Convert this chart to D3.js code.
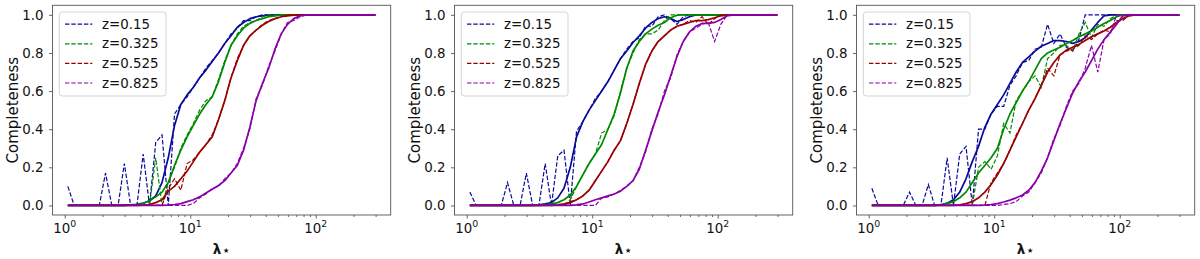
<!DOCTYPE html>
<html><head><meta charset="utf-8">
<script src="https://cdn.jsdelivr.net/npm/d3@7"></script>
<style>body{margin:0;background:#fff} svg{display:block}</style>
</head><body><svg id="c" width="1200" height="259"></svg>
<script>
// ---------------- DATA ----------------
const lambdaBins = [1.059,1.189,1.334,1.496,1.679,1.884,2.113,2.371,2.661,2.985,
  3.350,3.758,4.217,4.732,5.309,5.957,6.683,7.499,8.414,9.441,
  10.59,11.89,13.34,14.96,16.79,18.84,21.13,23.71,26.61,29.85,
  33.50,37.58,42.17,47.32,53.09,59.57,66.83,74.99,84.14,94.41,
  105.9,118.9,133.4,149.6,167.9,188.4,211.3,237.1,266.1,298.5];

const zLabels = ["z=0.15", "z=0.325", "z=0.525", "z=0.825"];
const zColors = ["#0a0a9a", "#008a00", "#9a0000", "#8a00a8"];
const yTickValues = [0, 0.2, 0.4, 0.6, 0.8, 1.0];
const xMajorTicks = [1, 10, 100];
const xTickExponents = ["0", "1", "2"];
const yLabel = "Completeness";

// Panel 1
const p1_z015_bin = [0.10,0,0,0,0,0,0.17,0,0,0.22, 0,0,0.27,0,0.33,0.37,0,0.48,0.53,0.57,
  0.62,0.67,0.72,0.76,0.80,0.85,0.90,0.93,0.97,0.97, 0.99,1,1,1,1,1,1,1,1,1, 1,1,1,1,1,1,1,1,1,1];
const p1_z015_fit = [0,0,0,0,0,0,0,0,0,0, 0.003,0.006,0.012,0.025,0.05,0.12,0.25,0.42,0.53,0.58,
  0.62,0.67,0.71,0.755,0.80,0.85,0.89,0.935,0.96,0.98, 0.99,0.995,0.998,1,1,1,1,1,1,1, 1,1,1,1,1,1,1,1,1,1];
const p1_z0325_bin = [0,0,0,0,0,0,0,0,0,0, 0,0,0,0,0.25,0,0.12,0.20,0.30,0.37,
  0.43,0.50,0.55,0.57,0.66,0.76,0.84,0.90,0.94,0.96, 0.97,0.99,1,1,1,1,1,1,1,1, 1,1,1,1,1,1,1,1,1,1];
const p1_z0325_fit = [0,0,0,0,0,0,0,0,0,0, 0.002,0.005,0.01,0.025,0.045,0.07,0.12,0.21,0.29,0.36,
  0.42,0.48,0.53,0.57,0.65,0.75,0.84,0.89,0.93,0.955, 0.97,0.98,0.99,0.995,1,1,1,1,1,1, 1,1,1,1,1,1,1,1,1,1];
const p1_z0525_bin = [0,0,0,0,0,0,0,0,0,0, 0,0,0,0,0,0,0.09,0.14,0.08,0.22,
  0.24,0.28,0.32,0.37,0.45,0.55,0.67,0.77,0.84,0.89, 0.92,0.95,0.97,0.98,0.99,1,1,1,1,1, 1,1,1,1,1,1,1,1,1,1];
const p1_z0525_fit = [0,0,0,0,0,0,0,0,0,0, 0,0,0.002,0.005,0.015,0.03,0.075,0.10,0.14,0.18,
  0.23,0.28,0.32,0.36,0.45,0.55,0.67,0.76,0.84,0.89, 0.92,0.945,0.965,0.98,0.99,0.995,0.998,1,1,1, 1,1,1,1,1,1,1,1,1,1];
const p1_z0825_bin = [0,0,0,0,0,0,0,0,0,0, 0,0,0,0,0,0,0,0,0,0,
  0.01,0.04,0.06,0.09,0.10,0.14,0.17,0.22,0.30,0.40, 0.56,0.63,0.73,0.81,0.90,0.96,0.97,0.99,1,1, 1,1,1,1,1,1,1,1,1,1];
const p1_z0825_fit = [0,0,0,0,0,0,0,0,0,0, 0,0,0,0,0,0,0.002,0.005,0.01,0.02,
  0.03,0.045,0.065,0.085,0.105,0.13,0.17,0.21,0.29,0.41, 0.55,0.64,0.72,0.82,0.90,0.95,0.98,0.995,1,1, 1,1,1,1,1,1,1,1,1,1];

// Panel 2
const p2_z015_bin = [0.07,0,0,0,0,0,0.12,0,0,0.17, 0,0,0.22,0,0.26,0.29,0,0.39,0.44,0.50,
  0.56,0.60,0.65,0.71,0.77,0.82,0.86,0.88,0.94,0.94, 0.99,1,0.98,0.95,0.99,1,1,1,1,1, 1,1,1,1,1,1,1,1,1,1];
const p2_z015_fit = [0,0,0,0,0,0,0,0,0,0, 0,0.003,0.008,0.015,0.04,0.09,0.20,0.36,0.44,0.50,
  0.55,0.60,0.65,0.71,0.77,0.81,0.855,0.89,0.93,0.96, 0.98,0.99,0.98,0.965,0.975,0.99,1,1,1,1, 1,1,1,1,1,1,1,1,1,1];
const p2_z0325_bin = [0,0,0,0,0,0,0,0,0,0, 0,0,0,0,0,0,0.03,0.10,0.16,0.22,
  0.27,0.38,0.40,0.47,0.60,0.72,0.80,0.87,0.90,0.90, 0.92,0.97,1,1,1,1,1,1,1,1, 1,1,1,1,1,1,1,1,1,1];
const p2_z0325_fit = [0,0,0,0,0,0,0,0,0,0, 0,0,0.003,0.008,0.015,0.03,0.055,0.10,0.16,0.22,
  0.27,0.32,0.40,0.48,0.59,0.72,0.81,0.86,0.90,0.925, 0.945,0.96,0.985,0.998,1,1,1,1,1,1, 1,1,1,1,1,1,1,1,1,1];
const p2_z0525_bin = [0,0,0,0,0,0,0,0,0,0, 0,0,0,0,0,0,0.02,0.03,0.05,0.08,
  0.13,0.18,0.23,0.29,0.34,0.43,0.53,0.64,0.74,0.81, 0.86,0.89,0.92,0.94,0.95,0.97,0.96,0.99,0.95,0.98, 1,1,1,1,1,1,1,1,1,1];
const p2_z0525_fit = [0,0,0,0,0,0,0,0,0,0, 0,0,0,0,0.003,0.008,0.015,0.03,0.05,0.08,
  0.13,0.18,0.23,0.29,0.34,0.43,0.53,0.64,0.74,0.81, 0.86,0.89,0.92,0.94,0.95,0.96,0.97,0.97,0.975,0.985, 0.995,1,1,1,1,1,1,1,1,1];
const p2_z0825_bin = [0,0,0,0,0,0,0,0,0,0, 0,0,0,0,0,0,0,0,0,0,
  0,0.04,0.045,0.06,0.08,0.10,0.13,0.20,0.28,0.40, 0.48,0.60,0.67,0.79,0.86,0.91,0.93,0.95,0.96,0.86, 0.95,1,1,1,1,1,1,1,1,1];
const p2_z0825_fit = [0,0,0,0,0,0,0,0,0,0, 0,0,0,0,0,0,0,0.003,0.008,0.018,
  0.03,0.04,0.05,0.06,0.075,0.10,0.13,0.19,0.29,0.39, 0.49,0.58,0.68,0.78,0.86,0.91,0.94,0.955,0.955,0.96, 0.975,0.995,1,1,1,1,1,1,1,1];

// Panel 3
const p3_z015_bin = [0.09,0,0,0,0,0,0.07,0,0,0.11, 0,0,0.25,0,0.27,0.31,0,0.40,0.40,0.48,
  0.52,0.52,0.63,0.68,0.75,0.76,0.82,0.83,0.95,0.85, 0.90,0.83,0.81,0.87,1,1,1,1,1,1, 1,1,1,1,1,1,1,1,1,1];
const p3_z015_fit = [0,0,0,0,0,0,0,0,0,0, 0,0.004,0.012,0.03,0.07,0.14,0.23,0.31,0.41,0.48,
  0.53,0.58,0.64,0.70,0.75,0.78,0.81,0.835,0.85,0.865, 0.865,0.86,0.85,0.86,0.88,0.92,0.96,0.995,1,1, 1,1,1,1,1,1,1,1,1,1];
const p3_z0325_bin = [0,0,0,0,0,0,0,0,0,0, 0,0,0,0,0,0,0,0.20,0.23,0.19,
  0.26,0.43,0.38,0.55,0.60,0.65,0.68,0.62,0.77,0.80, 0.84,0.84,0.81,0.90,0.96,0.88,0.95,0.94,0.98,1, 1,1,1,1,1,1,1,1,1,1];
const p3_z0325_fit = [0,0,0,0,0,0,0,0,0,0, 0,0.003,0.01,0.02,0.04,0.07,0.12,0.17,0.21,0.25,
  0.30,0.40,0.48,0.54,0.60,0.65,0.71,0.77,0.80,0.815, 0.83,0.85,0.865,0.885,0.90,0.915,0.935,0.955,0.97,0.99, 1,1,1,1,1,1,1,1,1,1];
const p3_z0525_bin = [0,0,0,0,0,0,0,0,0,0, 0,0,0,0,0,0,0,0,0,0.12,
  0.17,0.22,0.29,0.37,0.43,0.50,0.56,0.63,0.72,0.68, 0.79,0.81,0.82,0.84,0.89,0.87,0.90,0.92,0.91,0.97, 0.97,1,1,1,1,1,1,1,1,1];
const p3_z0525_fit = [0,0,0,0,0,0,0,0,0,0, 0,0,0,0,0.003,0.01,0.02,0.04,0.07,0.11,
  0.16,0.22,0.29,0.36,0.43,0.50,0.56,0.63,0.70,0.75, 0.79,0.815,0.83,0.845,0.865,0.885,0.90,0.915,0.935,0.96, 0.98,0.995,1,1,1,1,1,1,1,1];
const p3_z0825_bin = [0,0,0,0,0,0,0,0,0,0, 0,0,0,0,0,0,0,0,0,0,
  0,0.005,0.01,0.02,0.05,0.07,0.12,0.17,0.25,0.35, 0.42,0.52,0.60,0.64,0.72,0.84,0.70,0.87,0.90,1, 1,1,1,1,1,1,1,1,1,1];
const p3_z0825_fit = [0,0,0,0,0,0,0,0,0,0, 0,0,0,0,0,0,0,0,0.002,0.005,
  0.01,0.018,0.028,0.04,0.055,0.08,0.12,0.18,0.25,0.34, 0.43,0.51,0.59,0.65,0.70,0.76,0.82,0.87,0.91,0.95, 0.995,1,1,1,1,1,1,1,1,1];

const panels = [
  {bins: [p1_z015_bin, p1_z0325_bin, p1_z0525_bin, p1_z0825_bin], fits: [p1_z015_fit, p1_z0325_fit, p1_z0525_fit, p1_z0825_fit]},
  {bins: [p2_z015_bin, p2_z0325_bin, p2_z0525_bin, p2_z0825_bin], fits: [p2_z015_fit, p2_z0325_fit, p2_z0525_fit, p2_z0825_fit]},
  {bins: [p3_z015_bin, p3_z0325_bin, p3_z0525_bin, p3_z0825_bin], fits: [p3_z015_fit, p3_z0325_fit, p3_z0525_fit, p3_z0825_fit]}
];

// ---------------- LAYOUT ----------------
const panelLefts = [52.5, 454.5, 856.5];
const PW = 338.2, PT = 5.3, PB = 215;
const FONT = "'DejaVu Sans', sans-serif";
const spineColor = "#555";

const svg = d3.select("#c");

// x domain: data extent in log space, padded 5% each side (matplotlib default)
const lx0 = Math.log10(d3.min(lambdaBins)), lx1 = Math.log10(d3.max(lambdaBins));
const lpad = (lx1 - lx0) * 0.05;
const xDomain = [Math.pow(10, lx0 - lpad), Math.pow(10, lx1 + lpad)];
const yDomain = [0 - 0.05, 1 + 0.05];

const minorTicks = [];
[1, 10, 100].forEach(dec => { for (let k = 2; k <= 9; k++) { const v = k * dec; if (v > xDomain[0] && v < xDomain[1]) minorTicks.push(v); } });

panels.forEach((p, pi) => {
  const L = panelLefts[pi];
  const x = d3.scaleLog().domain(xDomain).range([L, L + PW]);
  const y = d3.scaleLinear().domain(yDomain).range([PB, PT]);
  const g = svg.append("g");

  const line = d3.line().x((d, i) => x(lambdaBins[i])).y(d => y(d));

  // curves: for each z, dashed binned then solid fit
  p.bins.forEach((arr, si) => {
    g.append("path").datum(arr).attr("d", line)
      .attr("fill", "none").attr("stroke", zColors[si]).attr("stroke-width", 1.2)
      .attr("stroke-dasharray", "4.4,1.9");
    g.append("path").datum(p.fits[si]).attr("d", line)
      .attr("fill", "none").attr("stroke", zColors[si]).attr("stroke-width", 1.7)
      .attr("stroke-linejoin", "round");
  });

  // axes
  const ax = g.append("g").attr("transform", `translate(0,${PB})`)
    .call(d3.axisBottom(x).tickValues(xMajorTicks).tickSize(3.5).tickFormat(""));
  const axm = g.append("g").attr("transform", `translate(0,${PB})`)
    .call(d3.axisBottom(x).tickValues(minorTicks).tickSize(2).tickFormat(""));
  const ay = g.append("g").attr("transform", `translate(${L},0)`)
    .call(d3.axisLeft(y).tickValues(yTickValues).tickSize(3.5).tickPadding(5.5).tickFormat(d3.format(".1f")));
  [ax, axm, ay].forEach(a => {
    a.select(".domain").remove();
    a.selectAll("line").attr("stroke", spineColor).attr("stroke-width", 0.9);
  });
  ay.selectAll("text").attr("font-family", FONT).attr("font-size", "13.4px").attr("fill", "#111");

  // x tick labels 10^k
  xMajorTicks.forEach((v, k) => {
    const t = g.append("text").attr("x", x(v)).attr("y", PB + 17.7)
      .attr("text-anchor", "middle").attr("font-family", FONT).attr("font-size", "13.4px").attr("fill", "#111");
    t.append("tspan").text("10");
    t.append("tspan").attr("dy", -5.6).attr("font-size", "9.4px").text(xTickExponents[k]);
  });

  // spines
  g.append("rect").attr("x", L).attr("y", PT).attr("width", PW).attr("height", PB - PT)
    .attr("fill", "none").attr("stroke", spineColor).attr("stroke-width", 0.9);

  // y label
  g.append("text").attr("transform", `translate(${L - 40},${(PT + PB) / 2}) rotate(-90)`)
    .attr("text-anchor", "middle").attr("dominant-baseline", "central")
    .attr("font-family", FONT).attr("font-size", "15px").attr("fill", "#111").text(yLabel);

  // x label λ⋆
  const xl = g.append("text").attr("x", L + PW / 2).attr("y", 253.5)
    .attr("text-anchor", "middle").attr("font-family", FONT).attr("font-size", "13.5px").attr("fill", "#111");
  xl.append("tspan").attr("font-weight", "bold").text("λ");
  xl.append("tspan").attr("font-size", "14px").attr("dx", 0.5).attr("dy", 1.5).text("⋆");

  // legend
  const lg = g.append("g");
  lg.append("rect").attr("x", L + 6.8).attr("y", 12).attr("width", 106.7).attr("height", 84)
    .attr("rx", 3).attr("fill", "#fff").attr("fill-opacity", 0.8).attr("stroke", "#d0d0d0").attr("stroke-width", 0.9);
  zLabels.forEach((lab, si) => {
    const yy = 24.2 + si * 19.6;
    lg.append("line").attr("x1", L + 12.5).attr("x2", L + 39.8).attr("y1", yy).attr("y2", yy)
      .attr("stroke", zColors[si]).attr("stroke-width", 1.2).attr("stroke-dasharray", "4.4,1.9");
    lg.append("text").attr("x", L + 49.5).attr("y", yy).attr("dominant-baseline", "central")
      .attr("font-family", FONT).attr("font-size", "13.4px").attr("fill", "#111").text(lab);
  });
});
</script></body></html>
